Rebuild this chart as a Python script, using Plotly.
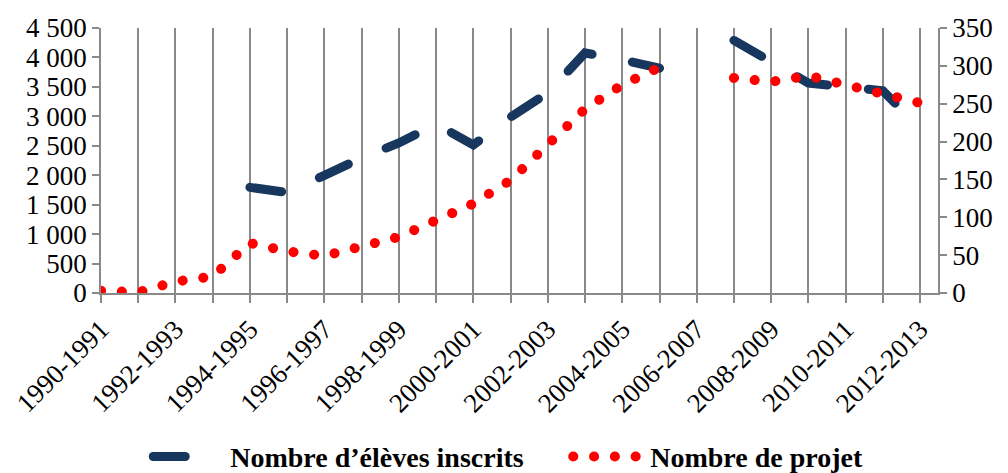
import plotly.graph_objects as go

categories = ["1990-1991", "1991-1992", "1992-1993", "1993-1994", "1994-1995",
              "1995-1996", "1996-1997", "1997-1998", "1998-1999", "1999-2000",
              "2000-2001", "2001-2002", "2002-2003", "2003-2004", "2004-2005",
              "2005-2006", "2006-2007", "2007-2008", "2008-2009", "2009-2010",
              "2010-2011", "2011-2012", "2012-2013"]

eleves = [None, None, None, None, 1794, 1708, 1997, 2295, 2547, 2869, 2513,
          2988, 3398, 4076, 3960, 3817, None, 4289, 3915, 3565, 3500, 3434, 2790]

projets = [3, 1, 15, 22, 66, 55, 49, 63, 74, 96, 118, 149, 195, 243, 275, 298,
           None, 284, 279, 287, 274, 263, 251]

left_ticks = list(range(0, 4501, 500))
right_ticks = list(range(0, 351, 50))

idx = list(range(len(categories)))
GRAY = "#898989"
FONT = "Liberation Serif, Times New Roman, serif"

fig = go.Figure()
fig.add_trace(go.Scatter(
    x=idx, y=eleves, name="Nombre d\u2019élèves inscrits", mode="lines",
    line=dict(color="#17375E", width=9, dash="32px,41px"),
    connectgaps=False, yaxis="y"))
fig.add_trace(go.Scatter(
    x=idx, y=projets, name="Nombre de projet", mode="lines",
    line=dict(color="#FF0000", width=10, dash="0.1px,20.7px"),
    connectgaps=False, yaxis="y2"))

tickfont = dict(family=FONT, size=27, color="black")

fig.update_layout(
    template="none",
    width=1008, height=473,
    margin=dict(l=101, r=70, t=28, b=180, autoexpand=False),
    paper_bgcolor="white", plot_bgcolor="white",
    font=dict(family=FONT, size=27, color="black"),
    separators=", ",
    showlegend=True,
    legend=dict(orientation="h", x=1.060, xanchor="right", y=-0.618, yanchor="middle",
                font=dict(family=FONT, size=28, color="black", weight="bold"),
                itemwidth=72, entrywidth=333, bgcolor="rgba(0,0,0,0)"),
    xaxis=dict(
        range=[0, 22.48], tickmode="array", tickvals=idx[::2], ticktext=categories[::2],
        tickangle=-45, ticks="outside", ticklen=8, tickwidth=1.5, tickcolor=GRAY,
        showline=True, linecolor=GRAY, linewidth=1.5, automargin=False,
        showgrid=True, gridcolor=GRAY, gridwidth=1.5, zeroline=False,
        tickfont=tickfont,
        minor=dict(tickmode="array", tickvals=idx, ticks="outside", ticklen=8,
                   tickwidth=1.5, tickcolor=GRAY, showgrid=True,
                   gridcolor=GRAY, gridwidth=1.5),
    ),
    yaxis=dict(
        range=[0, 4500], tickmode="array", tickvals=left_ticks, tickformat=",d",
        ticks="outside", ticklen=7, tickwidth=1.5, tickcolor=GRAY, automargin=False,
        showline=True, linecolor=GRAY, linewidth=1.5, showgrid=False, zeroline=False,
        tickfont=tickfont,
    ),
    yaxis2=dict(
        range=[0, 350], tickmode="array", tickvals=right_ticks, overlaying="y", side="right",
        ticks="outside", ticklen=7, tickwidth=1.5, tickcolor=GRAY, automargin=False,
        showline=True, linecolor=GRAY, linewidth=1.5, showgrid=False, zeroline=False,
        tickfont=tickfont,
    ),
)

post = """
document.body.style.margin = '0';
document.documentElement.style.overflow = 'hidden';
var s = document.createElement('style');
s.innerHTML = '.js-line { stroke-linecap: round; }';
document.head.appendChild(s);
"""
fig.write_html("out.html", post_script=post, config={"displayModeBar": False})
